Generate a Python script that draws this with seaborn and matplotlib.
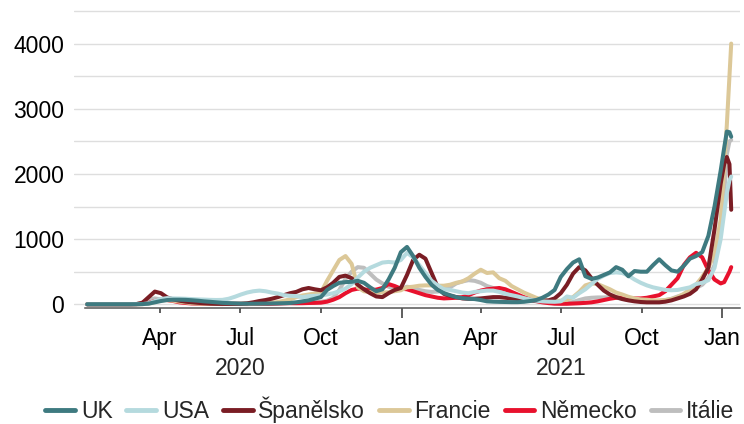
import pandas as pd
import matplotlib
matplotlib.use("Agg")
import matplotlib.pyplot as plt
import matplotlib.dates as mdates
import matplotlib.transforms as mtransforms
from matplotlib.lines import Line2D
from matplotlib.ticker import FixedLocator, MultipleLocator
import seaborn as sns

# weekly samples, then a denser tail over the January 2022 spike
week_dates = pd.date_range("2020-01-09", periods=104, freq="7D")
tail_dates = pd.to_datetime(["2022-01-03", "2022-01-06", "2022-01-09", "2022-01-11"])
dates = week_dates.append(tail_dates)

# new cases per million (7-day average)
uk = [0, 0, 0, 0, 0, 0, 0, 0, 1, 3, 10, 30, 50,
      65, 70, 70, 68, 62, 55, 45, 38, 30, 22, 18, 14, 10,
      9, 9, 10, 11, 13, 15, 17, 20, 30, 45, 60, 85, 110,
      220, 280, 330, 340, 345, 360, 330, 260, 200, 230, 380, 560, 800,
      880, 740, 560, 420, 300, 220, 170, 140, 110, 95, 85, 80, 65,
      45, 40, 37, 35, 33, 33, 38, 50, 65, 100, 150, 220, 420,
      540, 640, 690, 430, 390, 410, 450, 490, 570, 530, 430, 510, 500,
      500, 600, 690, 600, 520, 500, 590, 700, 740, 800, 1050, 1500, 2050,
      2400, 2650, 2640, 2570]
usa = [0, 0, 0, 0, 0, 0, 0, 0, 1, 3, 15, 50, 80,
       95, 90, 88, 85, 80, 75, 72, 68, 66, 68, 85, 115, 150,
       180, 200, 210, 200, 180, 165, 140, 130, 125, 110, 125, 130, 135,
       150, 170, 200, 240, 310, 410, 500, 560, 600, 640, 650, 640, 680,
       790, 720, 600, 480, 360, 290, 230, 220, 200, 180, 170, 190, 200,
       210, 210, 190, 160, 140, 120, 95, 75, 55, 45, 40, 38, 45,
       120, 100, 170, 230, 310, 390, 440, 480, 490, 480, 440, 380, 330,
       290, 260, 240, 220, 215, 220, 240, 260, 310, 330, 370, 560, 1000,
       1400, 1700, 1900, 1960]
spain = [0, 0, 0, 0, 0, 0, 0, 0, 3, 25, 110, 195, 170,
         105, 75, 55, 40, 30, 22, 16, 10, 7, 6, 6, 7, 8,
         15, 30, 50, 65, 85, 110, 140, 170, 190, 230, 250, 230, 215,
         260, 330, 420, 440, 400, 300, 230, 170, 120, 110, 170, 220, 250,
         450, 680, 760, 700, 480, 260, 160, 130, 110, 90, 85, 85, 90,
         100, 110, 110, 100, 90, 80, 70, 60, 55, 55, 60, 90, 170,
         300, 470, 570, 520, 400, 300, 210, 150, 110, 80, 60, 45, 35,
         30, 30, 30, 40, 60, 90, 120, 160, 230, 380, 560, 1150, 1850,
         2150, 2260, 2150, 1450]
france = [0, 0, 0, 0, 0, 0, 0, 0, 0, 2, 10, 35, 60,
          65, 55, 40, 30, 18, 12, 10, 8, 7, 6, 7, 8, 8,
          9, 10, 13, 17, 25, 35, 55, 75, 110, 135, 150, 165, 180,
          360, 520, 680, 740, 620, 260, 200, 185, 180, 180, 185, 200, 215,
          260, 270, 285, 290, 290, 285, 285, 300, 330, 350, 400, 470, 530,
          480, 490, 400, 360, 280, 230, 180, 140, 100, 70, 55, 50, 55,
          70, 110, 190, 290, 320, 310, 270, 230, 180, 150, 115, 90, 75,
          70, 60, 60, 65, 80, 110, 160, 230, 300, 420, 560, 780, 1300,
          2100, 2750, 3500, 4000]
germany = [0, 0, 0, 0, 0, 0, 0, 0, 1, 5, 20, 50, 70,
           65, 50, 30, 20, 13, 10, 8, 6, 5, 4, 6, 6, 5,
           4, 5, 6, 8, 10, 13, 16, 17, 16, 17, 20, 22, 25,
           40, 70, 110, 170, 220, 240, 230, 215, 225, 250, 310, 280, 240,
           230, 200, 170, 140, 120, 100, 90, 95, 100, 110, 140, 180, 210,
           230, 240, 250, 230, 190, 150, 110, 80, 50, 30, 18, 10, 8,
           8, 12, 16, 22, 30, 45, 65, 85, 100, 105, 95, 90, 90,
           100, 120, 140, 200, 300, 400, 600, 720, 790, 720, 520, 380, 320,
           340, 420, 500, 570]
italy = [0, 0, 0, 0, 0, 0, 0, 0, 3, 25, 70, 90, 75,
         65, 55, 45, 30, 22, 15, 11, 8, 6, 5, 4, 4, 3,
         3, 4, 4, 5, 6, 9, 15, 20, 23, 25, 27, 28, 38,
         55, 100, 220, 390, 500, 570, 560, 470, 380, 320, 270, 240, 230,
         270, 250, 220, 200, 190, 195, 220, 260, 320, 350, 370, 360, 330,
         280, 250, 230, 200, 165, 135, 100, 65, 45, 35, 25, 15, 14,
         20, 35, 65, 90, 100, 105, 105, 110, 100, 85, 70, 60, 55,
         50, 45, 50, 65, 85, 120, 150, 200, 250, 300, 400, 600, 1200,
         1700, 2300, 2500, 2520]

countries = ["UK", "USA", "Španělsko", "Francie", "Německo", "Itálie"]
colors = ["#3E7A80", "#B5DADE", "#7A1D24", "#DCC898", "#E8112D", "#BEBEBE"]
series = [uk, usa, spain, france, germany, italy]

df = pd.concat([pd.DataFrame({"date": dates, "value": vals, "country": name})
                for name, vals in zip(countries, series)], ignore_index=True)

sns.set_theme(style="white")
plt.rcParams["font.family"] = ["Liberation Sans", "DejaVu Sans"]

fig = plt.figure(figsize=(7.44, 4.24), dpi=100)
ax = fig.add_axes([74 / 744, 1 - 308 / 424, 666 / 744, 303 / 424])

# UK drawn last so it sits on top
sns.lineplot(data=df, x="date", y="value", hue="country", hue_order=countries[::-1],
             palette=dict(zip(countries, colors)), linewidth=2.9, estimator=None,
             legend=False, ax=ax)

ax.set_xlim(pd.Timestamp("2019-12-25"), pd.Timestamp("2022-01-21"))
ax.set_ylim(-57, 4592)
ax.set_xlabel("")
ax.set_ylabel("")

# y axis: labels every 1000, grid every 500
ax.yaxis.set_major_locator(FixedLocator([0, 1000, 2000, 3000, 4000]))
ax.yaxis.set_minor_locator(MultipleLocator(500))
ax.grid(axis="y", which="both", color="#DEDEDE", linewidth=1)
ax.grid(axis="x", visible=False)
ax.tick_params(axis="y", which="both", length=0, pad=7, labelsize=16.5, labelcolor="black")

# x axis: quarter ticks, longer at January
tick_dates = pd.date_range("2020-04-01", "2022-01-01", freq="QS")
ax.set_xticks(mdates.date2num(tick_dates))
ax.set_xticklabels([d.strftime("%b") for d in tick_dates])
ax.tick_params(axis="x", length=3.6, width=1.1, color="#333333", pad=10,
               labelsize=16.5, labelcolor="black", bottom=True)
for tick, d in zip(ax.xaxis.get_major_ticks(), tick_dates):
    if d.month == 1:
        tick.tick1line.set_markersize(7.5)

trans = mtransforms.blended_transform_factory(ax.transData, ax.transAxes)
for year in [2020, 2021]:
    ax.annotate(str(year), xy=(mdates.date2num(pd.Timestamp(f"{year}-07-01")), 0),
                xycoords=trans, xytext=(0, -35), textcoords="offset points",
                ha="center", va="top", fontsize=16.5)

for side in ["left", "right", "top"]:
    ax.spines[side].set_visible(False)
ax.spines["bottom"].set_color("#555555")
ax.spines["bottom"].set_linewidth(1.1)
ax.spines["bottom"].set_bounds(mdates.date2num(pd.Timestamp("2020-01-06")),
                               mdates.date2num(pd.Timestamp("2022-01-21")))

handles = [Line2D([], [], color=c, linewidth=3.5) for c in colors]
fig.legend(handles, countries, loc="center", bbox_to_anchor=(0.524, 14 / 424),
           ncol=6, frameon=False, fontsize=16.5, handlelength=1.3,
           handletextpad=0.25, columnspacing=0.6, borderaxespad=0, borderpad=0)

fig.savefig("out.png", dpi=100)
